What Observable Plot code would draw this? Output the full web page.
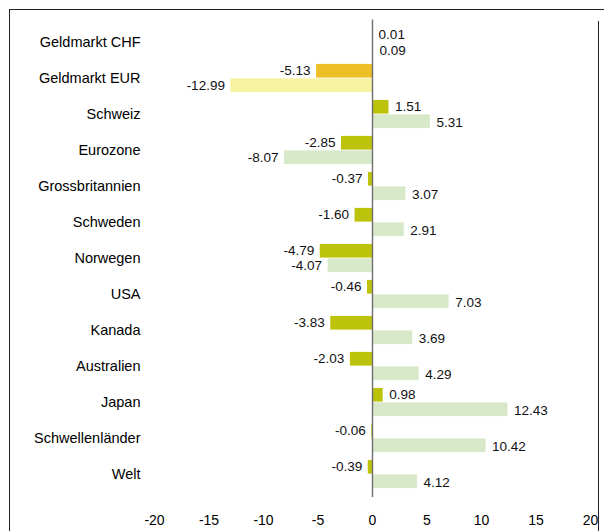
<!DOCTYPE html>
<html>
<head>
<meta charset="utf-8">
<script src="https://cdn.jsdelivr.net/npm/d3@7"></script>
<script src="https://cdn.jsdelivr.net/npm/@observablehq/plot@0.6"></script>
<style>
  html, body { margin: 0; padding: 0; background: #fff; }
  #wrap { position: relative; width: 604px; height: 531px; overflow: hidden; font-family: "Liberation Sans", Arial, sans-serif; }
  #wrap svg { position: absolute; left: 0; top: 0; }
  .bt { position: absolute; left: 9px; top: 9px; width: 595px; height: 0; border-top: 1.3px solid #222; }
  .bl { position: absolute; left: 9px; top: 9px; width: 0; height: 522px; border-left: 1.3px solid #222; }
  .br { position: absolute; left: 598px; top: 21px; width: 0; height: 510px; border-left: 1.3px solid #222; }
</style>
</head>
<body>
<div id="wrap"></div>
<script>
const categories = ["Geldmarkt CHF","Geldmarkt EUR","Schweiz","Eurozone","Grossbritannien","Schweden","Norwegen","USA","Kanada","Australien","Japan","Schwellenländer","Welt"];
const seriesA = [0.01, -5.13, 1.51, -2.85, -0.37, -1.60, -4.79, -0.46, -3.83, -2.03, 0.98, -0.06, -0.39];
const seriesB = [0.09, -12.99, 5.31, -8.07, 3.07, 2.91, -4.07, 7.03, 3.69, 4.29, 12.43, 10.42, 4.12];
const groups = ["geld","geld","land","land","land","land","land","land","land","land","land","land","land"];
const xTicks = [-20, -15, -10, -5, 0, 5, 10, 15, 20];

const colorA = {geld: "#EEBF26", land: "#BDC30A"};
const colorB = {geld: "#F8F3A1", land: "#D7E9C8"};

const rowsA = categories.map((c, i) => ({cat: c, v: seriesA[i], g: groups[i]}));
const rowsB = categories.map((c, i) => ({cat: c, v: seriesB[i], g: groups[i]}));
const fmt = d => d.v.toFixed(2);

const textOpts = {fontSize: 13.5, fill: "#111"};

const chart = Plot.plot({
  width: 604,
  height: 531,
  marginLeft: 154,
  marginRight: 14,
  marginTop: 19.5,
  marginBottom: 34,
  style: {fontFamily: "'Liberation Sans', Arial, sans-serif", fontSize: "14px", color: "#000", background: "transparent"},
  x: {domain: [-20, 20], axis: null},
  y: {domain: categories, padding: 0, axis: null},
  marks: [
    Plot.barX(rowsA, {x: "v", y: "cat", fill: d => colorA[d.g], insetTop: 3.9, insetBottom: 18.4}),
    Plot.barX(rowsB, {x: "v", y: "cat", fill: d => colorB[d.g], insetTop: 18.4, insetBottom: 3.9}),
    Plot.ruleX([0], {stroke: "#6e6e6e", strokeWidth: 1.4}),
    Plot.axisX({ticks: xTicks, tickSize: 0, tickPadding: 18, fontSize: 14, label: null, tickFormat: d => String(d)}),
    Plot.axisY({tickSize: 0, tickPadding: 14, fontSize: 14.5, label: null}),
    Plot.text(rowsA, {filter: d => d.v >= 0, x: "v", y: "cat", text: fmt, textAnchor: "start", dx: 6, dy: -7.8, ...textOpts}),
    Plot.text(rowsA, {filter: d => d.v < 0, x: "v", y: "cat", text: fmt, textAnchor: "end", dx: -6, dy: -7.5, ...textOpts}),
    Plot.text(rowsB, {filter: d => d.v >= 0, x: "v", y: "cat", text: fmt, textAnchor: "start", dx: 6, dy: 7.8, ...textOpts}),
    Plot.text(rowsB, {filter: d => d.v < 0, x: "v", y: "cat", text: fmt, textAnchor: "end", dx: -6, dy: 7.5, ...textOpts})
  ]
});

const wrap = document.getElementById("wrap");
wrap.appendChild(chart);
for (const cls of ["bt", "bl", "br"]) {
  const d = document.createElement("div");
  d.className = cls;
  wrap.appendChild(d);
}
</script>
</body>
</html>
